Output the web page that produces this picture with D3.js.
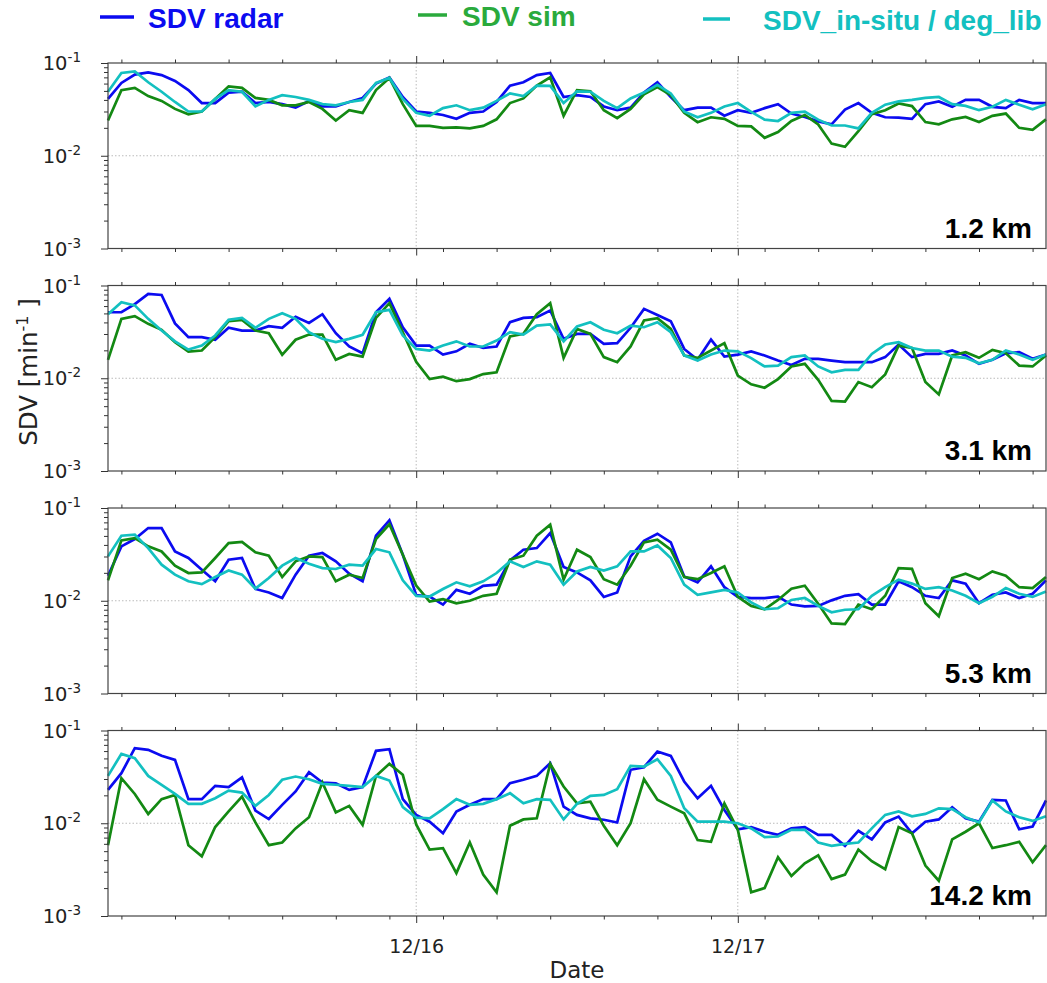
<!DOCTYPE html>
<html>
<head>
<meta charset="utf-8">
<script src="https://cdn.jsdelivr.net/npm/d3@7"></script>
<style>
  body { margin: 0; background: #fff; }
  svg { display: block; font-family: "DejaVu Sans", sans-serif; }
</style>
</head>
<body>
<svg id="chart" width="1047" height="983"></svg>
<script>
// hourly samples, 12/15 01:00 .. 12/17 23:00 (71 values per series)
const t0 = new Date(2015, 11, 15, 1)
const times = d3.range(71).map(i => d3.timeHour.offset(t0, i))

const panelLabels = ["1.2 km", "3.1 km", "5.3 km", "14.2 km"]
const seriesNames = ["SDV radar", "SDV sim", "SDV_in-situ / deg_lib"]

// 1.2 km
const radar12 = [.041,.061,.075,.079,.074,.064,.051,.037,.037,.048,.049,.037,.038,.036,.033,.039,.034,.034,.038,.042,.060,.070,.043,.030,
  .029,.0275,.025,.029,.030,.038,.057,.062,.074,.078,.043,.045,.043,.034,.031,.033,.048,.062,.043,.031,.033,.033,.027,.031,.029,
  .0326,.036,.0285,.0262,.0235,.0218,.0315,.037,.029,.026,.0258,.025,.036,.0385,.0337,.040,.040,.0337,.0326,.040,.037,.037]
const sim12 = [.024,.051,.054,.044,.039,.032,.028,.030,.041,.056,.054,.042,.040,.035,.035,.038,.032,.024,.031,.029,.051,.069,.036,.021,
  .021,.020,.0202,.0197,.021,.0247,.037,.0415,.057,.070,.027,.051,.0495,.031,.0255,.032,.046,.055,.045,.029,.023,.026,.025,.021,.0207,
  .0156,.018,.0237,.0275,.0218,.0135,.0125,.0184,.028,.031,.0366,.0343,.0231,.0218,.0247,.0262,.0231,.0269,.0285,.020,.019,.0247]
const insitu12 = [.049,.078,.081,.062,.049,.038,.030,.030,.041,.051,.049,.034,.040,.045,.043,.040,.036,.035,.038,.040,.061,.069,.041,.029,
  .027,.0326,.035,.031,.033,.039,.047,.044,.057,.0567,.037,.0495,.049,.039,.0326,.0415,.048,.058,.047,.030,.026,.029,.034,.037,.0297,
  .0245,.0237,.029,.0299,.0245,.0212,.0212,.0197,.029,.0355,.0385,.040,.042,.043,.036,.0345,.031,.0337,.040,.0355,.0317,.036]

// 3.1 km
const radar31 = [.0515,.0515,.063,.081,.079,.039,.0277,.0277,.026,.035,.0327,.0327,.0364,.035,.046,.0395,.049,.0306,.022,.0186,.0515,.072,.0355,.0225,
  .0225,.018,.0195,.0235,.0212,.022,.0402,.0448,.0455,.0537,.0266,.0301,.0301,.0235,.0239,.035,.056,.0482,.0412,.0207,.0158,.0261,.0171,.018,.0195,
  .0176,.0155,.0139,.0162,.0162,.0155,.0149,.0149,.0149,.0169,.0231,.0169,.0183,.0183,.0199,.0176,.0143,.0158,.0186,.0191,.0162,.018]
const sim31 = [.0158,.0437,.0467,.0386,.0333,.0245,.0194,.0199,.0277,.0412,.0426,.0327,.0306,.0179,.026,.0296,.0295,.0158,.0183,.0171,.0448,.0645,.0313,.015,
  .0098,.0104,.0093,.0098,.0111,.0116,.0282,.0301,.049,.0645,.0166,.034,.0301,.0169,.0149,.022,.0419,.0444,.034,.0176,.0166,.0199,.0239,.0107,.0086,
  .0079,.0098,.0134,.0143,.0096,.0057,.0056,.0091,.008,.011,.0225,.0212,.0091,.0067,.0176,.0191,.0166,.0202,.0186,.0137,.0134,.0176]
const insitu31 = [.049,.066,.061,.0437,.0327,.025,.0204,.0225,.0289,.0426,.0448,.035,.0437,.0502,.0437,.0313,.0266,.0245,.0266,.0294,.0515,.0546,.0289,.0207,
  .0199,.0225,.025,.022,.022,.0255,.0313,.0296,.037,.038,.025,.0361,.0402,.0333,.0306,.037,.0355,.0402,.0313,.0176,.0155,.018,.0199,.0195,.0165,
  .0134,.0137,.0169,.0176,.0134,.0116,.0123,.0123,.0183,.0231,.0245,.0212,.0199,.0199,.0171,.0166,.0145,.0158,.0199,.018,.0158,.018]

// 5.3 km
const radar53 = [.0186,.0386,.0463,.0608,.0608,.034,.0289,.0216,.0162,.0277,.0289,.0134,.0123,.0107,.0191,.0306,.0327,.0266,.0196,.0162,.0503,.0736,.0313,.0115,
  .0111,.0091,.0131,.0119,.0145,.0149,.0272,.0355,.037,.0537,.0231,.0202,.0166,.011,.0123,.0301,.0444,.0528,.0426,.0183,.0158,.0235,.014,.011,.0107,
  .0107,.0111,.0091,.0087,.0088,.0101,.0113,.0118,.0091,.0091,.0162,.014,.0113,.0107,.0166,.0153,.0094,.0116,.0123,.0107,.0119,.0166]
const sim53 = [.0166,.0448,.0474,.0386,.034,.0239,.0199,.0202,.0289,.0419,.043,.0333,.0306,.018,.0266,.0301,.0296,.0162,.0191,.0176,.0463,.0667,.0313,.0146,
  .0098,.0104,.0094,.010,.0113,.0119,.0277,.0306,.0503,.066,.0169,.0355,.0296,.0171,.0149,.0239,.0426,.0455,.0355,.018,.0171,.0199,.0235,.011,.0088,
  .0081,.0102,.0135,.0145,.0093,.0057,.0056,.0091,.0081,.0113,.0225,.0221,.0094,.0068,.0176,.0196,.0171,.0207,.0186,.014,.0137,.018]
const insitu53 = [.0301,.0503,.0515,.037,.0245,.0191,.0162,.0151,.018,.0212,.0191,.0135,.0176,.0239,.0289,.025,.0225,.022,.0245,.0239,.0361,.0333,.0166,.0113,
  .0111,.0134,.0158,.0143,.0162,.0199,.0266,.0231,.0266,.0245,.0149,.0207,.0231,.0212,.0235,.034,.034,.0395,.0289,.0149,.0116,.0123,.0131,.0123,.0096,
  .0081,.0083,.0102,.0107,.0088,.0075,.008,.0081,.0113,.014,.0169,.0153,.0134,.014,.0129,.0113,.0094,.011,.0137,.0119,.011,.0126]

// 14.2 km
const radar142 = [.0229,.0347,.0644,.0618,.0533,.0482,.0182,.0182,.0253,.0245,.0313,.0137,.0111,.0158,.022,.0355,.0275,.027,.0229,.0245,.0604,.0629,.0182,.0123,
  .0104,.0078,.0134,.0158,.0182,.0182,.027,.0294,.0324,.0444,.0151,.0123,.0113,.0109,.0102,.0377,.0402,.0593,.0533,.0282,.0186,.0253,.0139,.0086,.0091,
  .0081,.0075,.0088,.0091,.0075,.0075,.0057,.0083,.0067,.0102,.0118,.0078,.0104,.011,.0149,.0113,.0104,.0179,.0176,.0086,.0092,.0176]
const sim142 = [.0058,.0306,.0207,.0126,.0182,.0202,.0058,.0044,.0091,.0134,.0194,.0102,.0058,.0062,.0088,.0116,.0275,.0131,.0154,.0096,.0324,.0437,.0333,.0097,
  .0052,.0054,.0029,.0062,.0028,.0018,.0094,.011,.0113,.0437,.0249,.0164,.0171,.0094,.0058,.010,.0298,.0179,.0151,.0128,.0066,.0063,.0164,.0085,.0018,
  .002,.0043,.0027,.0037,.0045,.0025,.0028,.0052,.0039,.0032,.0091,.0078,.0035,.0024,.0067,.0081,.010,.0054,.0058,.0063,.0038,.0058]
const insitu142 = [.0324,.056,.0503,.0324,.026,.0207,.0162,.0162,.0186,.0225,.0214,.0154,.0202,.0294,.0319,.0298,.0266,.026,.0253,.0245,.0324,.0289,.0149,.0115,
  .0113,.0142,.0182,.0158,.0162,.0182,.0211,.0164,.0182,.0179,.011,.0162,.0197,.0202,.0233,.0416,.0409,.049,.0324,.0145,.0104,.0104,.0104,.010,.0088,
  .0071,.0072,.0085,.0085,.0062,.0057,.006,.0062,.0088,.0123,.0134,.0119,.0126,.0145,.0142,.0116,.0102,.0176,.0134,.0116,.0106,.0119]

const panels = [
  { label: panelLabels[0], series: [radar12, sim12, insitu12] },
  { label: panelLabels[1], series: [radar31, sim31, insitu31] },
  { label: panelLabels[2], series: [radar53, sim53, insitu53] },
  { label: panelLabels[3], series: [radar142, sim142, insitu142] }
]

const LINE_COLORS = ["#0b0bf0", "#138913", "#13c0c0"]
const TEXT_COLORS = ["#0b0bf0", "#2aaa3c", "#13c0c0"]
const X0 = 108, X1 = 1046, TOP = 63, STEP = 222.5, H = 185.5

const svg = d3.select("#chart")
const x = d3.scaleTime().domain(d3.extent(times)).range([X0, X1])
const days = d3.timeDay.range(times[0], times[times.length - 1])
const hours4 = d3.timeHour.range(times[0], times[times.length - 1]).filter(d => d.getHours() % 4 === 2)
const majors = [1e-1, 1e-2, 1e-3]
const minors = d3.range(-3, -1).flatMap(e => d3.range(2, 10).map(k => k * Math.pow(10, e)))

function tidy(g) {
  g.select(".domain").remove()
  g.selectAll(".tick line").attr("stroke", "#333")
}

panels.forEach((p, i) => {
  const top = TOP + i * STEP
  const y = d3.scaleLog().domain([1e-3, 1e-1]).range([top + H, top])
  const g = svg.append("g")

  // dotted grid
  g.append("line").attr("x1", X0).attr("x2", X1).attr("y1", y(1e-2)).attr("y2", y(1e-2))
    .attr("stroke", "#bbb").attr("stroke-dasharray", "1.5,2")
  g.selectAll(".vgrid").data(days).enter().append("line")
    .attr("x1", d => x(d)).attr("x2", d => x(d)).attr("y1", top).attr("y2", top + H)
    .attr("stroke", "#bbb").attr("stroke-dasharray", "1.5,2")

  const line = d3.line().x((d, k) => x(times[k])).y(d => y(d))
  p.series.forEach((s, k) => {
    g.append("path").datum(s).attr("d", line)
      .attr("fill", "none").attr("stroke", LINE_COLORS[k]).attr("stroke-width", 2.7)
      .attr("stroke-linejoin", "miter")
  })

  g.append("rect").attr("x", X0).attr("y", top).attr("width", X1 - X0).attr("height", H)
    .attr("fill", "none").attr("stroke", "#444").attr("stroke-width", 1.2)

  // y ticks
  g.append("g").attr("transform", `translate(${X0},0)`)
    .call(d3.axisLeft(y).tickValues(majors).tickSize(7).tickFormat("")).call(tidy)
  g.append("g").attr("transform", `translate(${X0},0)`)
    .call(d3.axisLeft(y).tickValues(minors).tickSize(4).tickFormat("")).call(tidy)

  majors.forEach(v => {
    const t = g.append("text").attr("x", 81).attr("y", y(v) + 7)
      .attr("text-anchor", "end").attr("font-size", 19.5).attr("fill", "#222")
    t.append("tspan").text("10")
    t.append("tspan").attr("dy", -8).attr("font-size", 13.5).text("-" + (-Math.log10(v)).toFixed(0))
  })

  // x ticks top and bottom
  g.append("g").attr("transform", `translate(0,${top})`)
    .call(d3.axisTop(x).tickValues(hours4).tickSize(3.5).tickFormat("")).call(tidy)
  g.append("g").attr("transform", `translate(0,${top})`)
    .call(d3.axisTop(x).tickValues(days).tickSize(7).tickFormat("")).call(tidy)
  g.append("g").attr("transform", `translate(0,${top + H})`)
    .call(d3.axisBottom(x).tickValues(hours4).tickSize(3.5).tickFormat("")).call(tidy)
  const xb = g.append("g").attr("transform", `translate(0,${top + H})`)
    .call(d3.axisBottom(x).tickValues(days).tickSize(7).tickPadding(16.5)
      .tickFormat(i === panels.length - 1 ? d3.timeFormat("%m/%d") : ""))
    .call(tidy)
  xb.attr("font-family", null).attr("font-size", null)
  xb.selectAll("text").attr("font-size", 19).attr("fill", "#222")

  g.append("text").attr("x", 1032).attr("y", top + H - 11)
    .attr("text-anchor", "end").attr("font-family", "'Liberation Sans', Arial, sans-serif")
    .attr("font-weight", "bold").attr("font-size", 28).attr("fill", "#000")
    .text(p.label)
})

// axis titles
svg.append("text").attr("x", (X0 + X1) / 2).attr("y", 978).attr("text-anchor", "middle")
  .attr("font-size", 23).attr("fill", "#222").text("Date")
const yl = svg.append("text").attr("transform", "translate(37,372) rotate(-90)")
  .attr("text-anchor", "middle").attr("font-size", 24.5).attr("fill", "#222")
yl.append("tspan").text("SDV [min")
yl.append("tspan").attr("dy", -9).attr("font-size", 16).text("-1")
yl.append("tspan").attr("dy", 9).text(" ]")

// legend
const legendPos = [[100, 134, 17, 148, 28], [418, 447, 15, 462, 26], [703, 730, 19, 763, 30]]
seriesNames.forEach((name, k) => {
  const [a, b, ly, tx, ty] = legendPos[k]
  svg.append("line").attr("x1", a).attr("x2", b).attr("y1", ly).attr("y2", ly)
    .attr("stroke", TEXT_COLORS[k]).attr("stroke-width", 3.5)
  svg.append("text").attr("x", tx).attr("y", ty)
    .attr("font-family", "'Liberation Sans', Arial, sans-serif").attr("font-weight", "bold")
    .attr("font-size", 28).attr("fill", TEXT_COLORS[k]).text(name)
})
</script>
</body>
</html>
